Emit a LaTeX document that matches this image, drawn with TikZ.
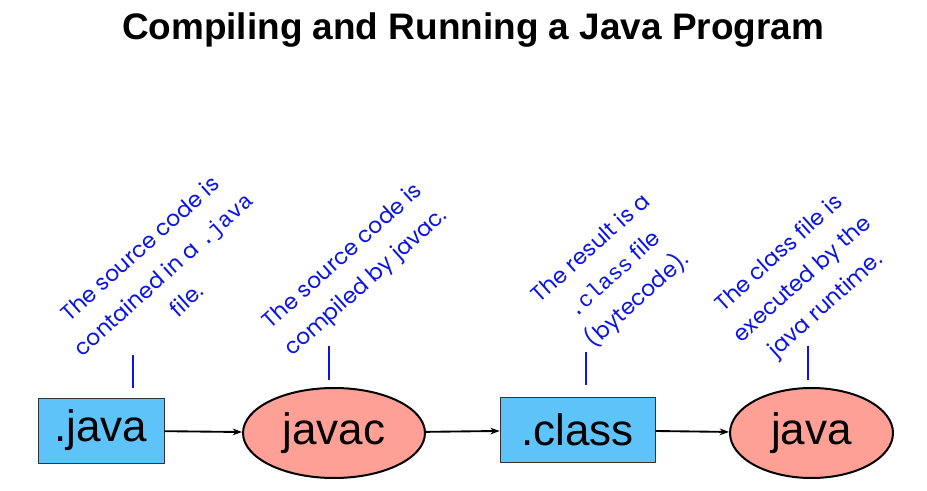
\documentclass[tikz,border=0pt]{standalone}
\usepackage{fontspec}
\setmainfont{Liberation Sans}
\newfontfamily\handfont{Poppins}
\newfontfamily\codefont{Liberation Mono}
\usetikzlibrary{shapes.geometric,arrows.meta}
\definecolor{filebox}{HTML}{5EC3F8}
\definecolor{toolfill}{HTML}{FFA096}
\definecolor{noteblue}{HTML}{0A14E6}
\begin{document}
\begin{tikzpicture}[x=0.75pt, y=-0.75pt,
    file/.style={draw=black!80, fill=filebox, rectangle, inner sep=0pt,
        minimum height=48.75pt, font=\fontsize{33}{36}\selectfont},
    tool/.style={draw, line width=1.5pt, fill=toolfill, ellipse, inner sep=0pt,
        minimum height=67.5pt, font=\fontsize{33}{36}\selectfont},
    note/.style={text=noteblue, rotate=42, align=center,
        font=\handfont\fontsize{16.5}{26}\selectfont},
    tick/.style={draw=noteblue, line width=2.2pt},
    flow/.style={-{Stealth[length=7pt,width=5pt]}, line width=1.4pt}]
    \useasboundingbox (0,0) rectangle (927,491);

    \node (title) at (473,40) [anchor=base, font=\bfseries\fontsize{27.7}{30}\selectfont]
        {Compiling and Running a Java Program};

    \node (javafile) at (101,430.5) [file, minimum width=94.5pt] {.java};
    \node (javac) at (334,433) [tool, minimum width=136.5pt] {javac};
    \node (classfile) at (577.5,430) [file, minimum width=116.25pt] {.class};
    \node (jvm) at (811.5,433) [tool, minimum width=122.25pt] {java};

    \draw[flow] (javafile) -- (javac);
    \draw[flow] (javac) -- (classfile);
    \draw[flow] (classfile) -- (jvm);

    \node (notejava) at (163,274) [note]
        {The source code is\\ contained in a {\codefont .java}\\ file.};
    \node (notejavac) at (355,270) [note]
        {The source code is\\ compiled by javac.};
    \node (noteclass) at (615,275) [note]
        {The result is a\\ {\codefont .class} file\\ (bytecode).};
    \node (notejvm) at (803,280) [note]
        {The class file is\\ executed by the\\ java runtime.};

    \coordinate (tickjava) at (133,355);
    \coordinate (tickjavac) at (329,346);
    \coordinate (tickclass) at (586,352);
    \coordinate (tickjvm) at (808,346);
    \draw[tick] (tickjava) -- ++(0,33);
    \draw[tick] (tickjavac) -- ++(0,34);
    \draw[tick] (tickclass) -- ++(0,33);
    \draw[tick] (tickjvm) -- ++(0,34);
\end{tikzpicture}
\end{document}
